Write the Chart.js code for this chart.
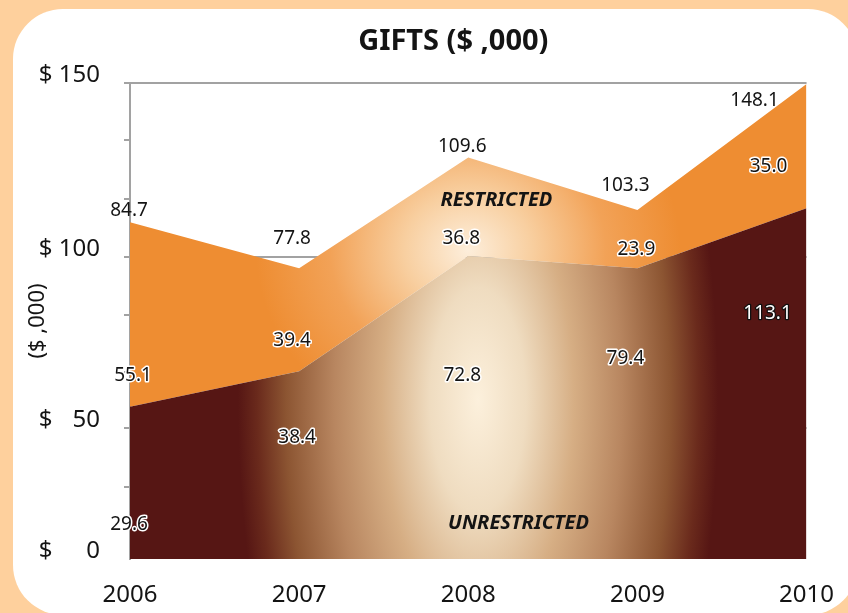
<!DOCTYPE html>
<html lang="en">

<head>
    <meta charset="UTF-8">
    <title>Gifts</title>
    <script src="https://cdn.jsdelivr.net/npm/chart.js"></script>
    <style>
        html, body { margin: 0; padding: 0; }
        body { width: 848px; height: 613px; overflow: hidden; background: #fed09d; position: relative; }
        .panel { position: absolute; left: 13px; top: 9px; width: 845px; height: 606px; border-radius: 50px; background: #fff; }
        #giftsChart { position: absolute; left: 0; top: 0; }
    </style>
</head>

<body>
    <div class="panel"></div>
    <canvas id="giftsChart" width="848" height="613"></canvas>

    <script>
        // values printed on the chart
        const years = ['2006', '2007', '2008', '2009', '2010'];
        const unrestricted = [29.6, 38.4, 72.8, 79.4, 113.1];
        const restricted = [55.1, 39.4, 36.8, 23.9, 35.0];
        const totals = [84.7, 77.8, 109.6, 103.3, 148.1];

        // heights the areas are actually drawn at (the artwork is not to scale)
        const unrestrictedDrawn = [48.0, 59.2, 95.5, 91.6, 110.5];
        const totalDrawn = [106.1, 91.6, 126.5, 110.0, 149.7];

        // y axis tick marks and the few that carry a label
        const yTickValues = [0, 22.6, 41.2, 58.9, 76.9, 95.2, 113.3, 131.9, 150];
        const yTickText = ['$ \u2007\u20070', '', '$ \u200750', '', '', '$ 100', '', '', '$ 150'];

        const FONT = '"Noto Sans", "Open Sans", sans-serif';
        const GRAY = '#a2a2a2';
        const INK = '#141414';

        // label offsets in px from the point they belong to
        const totalOffsets = [[-1, -12], [-7, -30], [-6, -11], [-12, -24], [-52, 17]];
        const restrictedOffsets = [[3, -31], [-7, -31], [-7, -17], [-1, -19], [-38, -42]];
        const unrestrictedOffsets = [[-1, 118], [-2, 66], [-6, 120], [-12, 90], [-39, 105]];
        const unrestrictedWhite = [false, false, false, false, true];

        // elliptical glow painted into an offscreen canvas, used as a fill pattern
        function glow(cx, cy, rx, ry, stops) {
            const c = document.createElement('canvas');
            c.width = 848; c.height = 613;
            const g = c.getContext('2d');
            g.translate(cx, cy);
            g.scale(1, ry / rx);
            const grad = g.createRadialGradient(0, 0, 0, 0, 0, rx);
            stops.forEach(s => grad.addColorStop(s[0], s[1]));
            g.fillStyle = grad;
            g.fillRect(-3000, -3000, 6000, 6000);
            return c;
        }

        const darkGlow = glow(478, 400, 240, 560, [
            [0, '#fcf0dc'], [0.2, '#efdcc0'], [0.4, '#d6ae84'], [0.6, '#b88660'],
            [0.8, '#8c5532'], [0.92, '#6a2a1c'], [1, '#561614']
        ]);
        const orangeGlow = glow(468, 250, 212, 190, [
            [0, '#fdeedb'], [0.3, '#f8cfa0'], [0.65, '#f2a257'], [1, '#ee8d32']
        ]);

        const patterns = {};
        function patternFor(key, img) {
            return function (ctx) {
                if (!patterns[key]) patterns[key] = ctx.chart.ctx.createPattern(img, 'no-repeat');
                return patterns[key];
            };
        }

        function outlined(ctx, text, x, y, fill, stroke, w) {
            ctx.lineJoin = 'round';
            ctx.lineWidth = w;
            ctx.strokeStyle = stroke;
            ctx.strokeText(text, x, y);
            ctx.fillStyle = fill;
            ctx.fillText(text, x, y);
        }

        const textPlugin = {
            id: 'textPlugin',
            afterDatasetsDraw(chart) {
                const ctx = chart.ctx;
                const area = chart.chartArea;
                const xs = chart.scales.x, ys = chart.scales.y;
                const low = chart.getDatasetMeta(0).data;
                const high = chart.getDatasetMeta(1).data;
                ctx.save();
                ctx.textAlign = 'center';
                ctx.textBaseline = 'middle';

                ctx.font = 'bold 29px ' + FONT;
                ctx.fillStyle = INK;
                ctx.fillText('GIFTS ($ ,000)', (area.left + area.right) / 2 - 15, 42);

                ctx.font = '19px ' + FONT;
                years.forEach((yr, i) => {
                    const t = high[i], b = low[i];
                    ctx.fillStyle = INK;
                    ctx.fillText(totals[i].toFixed(1), t.x + totalOffsets[i][0], t.y + totalOffsets[i][1]);
                    outlined(ctx, restricted[i].toFixed(1), b.x + restrictedOffsets[i][0], b.y + restrictedOffsets[i][1], INK, '#fff', 3);
                    if (unrestrictedWhite[i]) {
                        outlined(ctx, unrestricted[i].toFixed(1), b.x + unrestrictedOffsets[i][0], b.y + unrestrictedOffsets[i][1], '#fff', '#111', 2.5);
                    } else {
                        outlined(ctx, unrestricted[i].toFixed(1), b.x + unrestrictedOffsets[i][0], b.y + unrestrictedOffsets[i][1], INK, '#fff', 3);
                    }
                });

                ctx.font = 'italic bold 20px ' + FONT;
                ctx.fillStyle = INK;
                ctx.fillText('RESTRICTED', xs.getPixelForValue(2.166), ys.getPixelForValue(113));
                ctx.fillText('UNRESTRICTED', xs.getPixelForValue(2.297), ys.getPixelForValue(11.2));
                ctx.restore();
            }
        };

        const data = {
            labels: years,
            datasets: [
                {
                    label: 'Unrestricted',
                    data: unrestrictedDrawn,
                    fill: 'origin',
                    backgroundColor: patternFor('dark', darkGlow),
                    borderWidth: 0,
                    pointRadius: 0,
                    tension: 0
                },
                {
                    label: 'Restricted',
                    data: totalDrawn,
                    fill: '-1',
                    backgroundColor: patternFor('orange', orangeGlow),
                    borderWidth: 0,
                    pointRadius: 0,
                    tension: 0
                }
            ]
        };

        const config = {
            type: 'line',
            data: data,
            options: {
                responsive: false,
                animation: false,
                devicePixelRatio: 1,
                layout: { padding: { left: 0, top: 83, right: 30, bottom: 0 } },
                plugins: {
                    legend: { display: false },
                    tooltip: { enabled: false }
                },
                scales: {
                    x: {
                        offset: false,
                        grid: { display: false },
                        border: { display: false },
                        ticks: {
                            color: INK,
                            font: { family: FONT, size: 24 },
                            padding: 14,
                            maxRotation: 0,
                            autoSkip: false
                        },
                        afterFit: s => { s.height = 54; }
                    },
                    y: {
                        min: 0,
                        max: 150,
                        afterBuildTicks: s => { s.ticks = yTickValues.map(v => ({ value: v })); },
                        afterFit: s => { s.width = 130; },
                        grid: {
                            lineWidth: 2,
                            tickLength: 6,
                            color: c => (yTickText[c.index] && c.tick.value !== 0) ? GRAY : 'rgba(0,0,0,0)',
                            tickColor: c => c.tick.value === 0 ? 'rgba(0,0,0,0)' : GRAY
                        },
                        border: { color: GRAY, width: 2 },
                        ticks: {
                            autoSkip: false,
                            color: INK,
                            font: { family: FONT, size: 24 },
                            padding: 24,
                            labelOffset: -8,
                            callback: (v, i) => yTickText[i]
                        },
                        title: {
                            display: true,
                            text: '($ ,000)',
                            color: INK,
                            font: { family: FONT, size: 22 },
                            padding: { top: 25, bottom: 0 }
                        }
                    }
                }
            },
            plugins: [textPlugin]
        };

        new Chart(document.getElementById('giftsChart'), config);
    </script>
</body>

</html>
